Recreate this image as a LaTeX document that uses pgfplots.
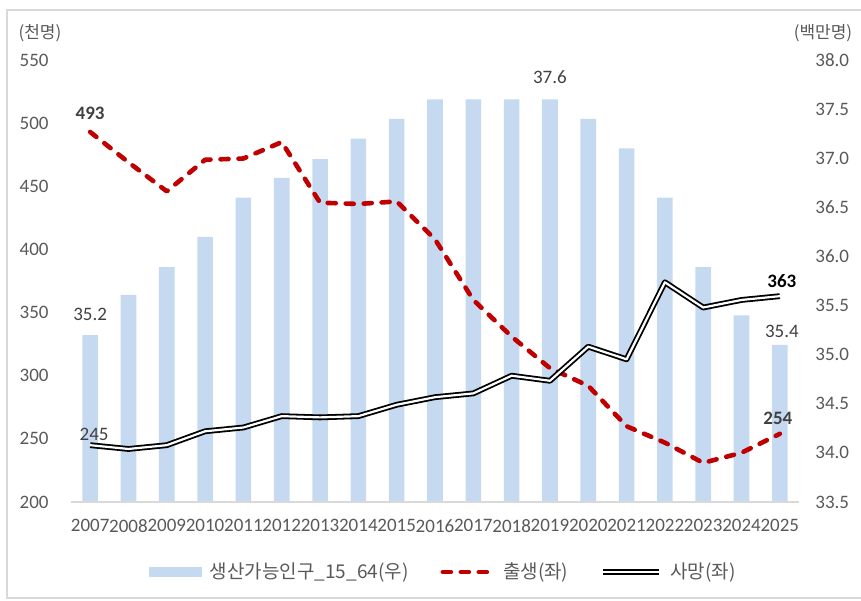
\documentclass[border=0pt]{standalone}
\usepackage{fontspec}
\setmainfont{Carlito}
\newfontfamily\kr{Noto Sans CJK KR}
\usepackage{pgfplots}
\pgfplotsset{compat=1.18}
\usepackage{pgfplotstable}

\definecolor{barblue}{RGB}{197,217,241}
\definecolor{birthred}{RGB}{192,0,0}
\definecolor{ticktext}{RGB}{89,89,89}
\definecolor{labeltext}{RGB}{64,64,64}
\definecolor{framegray}{RGB}{217,217,217}

% wa = working-age population (bar height, right axis), birth/death in thousands (left axis)
\pgfplotstableread{
idx year wa birth death
0 2007 35.20 493 245
1 2008 35.61 469 242
2 2009 35.89 446 245
3 2010 36.20 471 256
4 2011 36.60 472 259
5 2012 36.80 485 268
6 2013 36.99 437 267
7 2014 37.20 436 268
8 2015 37.40 438 277
9 2016 37.60 408 283
10 2017 37.60 360 286
11 2018 37.60 331 300
12 2019 37.60 306 296
13 2020 37.40 292 323
14 2021 37.10 260 313
15 2022 36.60 247 374
16 2023 35.89 231 354
17 2024 35.40 239 360
18 2025 35.10 254 363
}\pop

\pgfplotsset{
  common/.style={
    at={(35.5pt,49pt)}, anchor=south west,
    scale only axis, width=364pt, height=221pt,
    xmin=-0.5, xmax=18.5,
    major tick length=0pt,
    tick label style={font=\fontsize{9.5}{10}\selectfont, text=ticktext},
    /pgf/number format/assume math mode=true,
  },
  lineleg/.style={legend image code/.code={\draw[##1] (0pt,0pt) -- (#1,0pt);}},
  barleg/.style={legend image code/.code={\fill[barblue] (0pt,-2.25pt) rectangle (26pt,2.25pt);}},
}

\begin{document}
\begin{tikzpicture}
\useasboundingbox (0,0) rectangle (430.5pt,300pt);
\draw[framegray, line width=0.75pt] (3.5pt,1pt) rectangle (433pt,295pt);

% right axis: bars
\begin{axis}[common,
  ymin=33.5, ymax=38,
  hide x axis,
  axis y line*=right, y axis line style={draw=none},
  ytick={33.5,34,34.5,35,35.5,36,36.5,37,37.5,38},
  yticklabel style={anchor=west, inner sep=0pt, xshift=8pt,
    /pgf/number format/.cd, fixed, fixed zerofill, precision=1},
]
\addplot[ybar, bar width=7.8pt, fill=barblue, draw=none] table[x=idx, y=wa]{\pop};
\node[anchor=south, inner sep=0pt, text=labeltext, font=\fontsize{9.5}{10}\selectfont, yshift=7pt] at (axis cs:0,35.20) {35.2};
\node[anchor=south, inner sep=0pt, text=labeltext, font=\fontsize{9.5}{10}\selectfont, yshift=7.5pt] at (axis cs:12,37.60) {37.6};
\node[anchor=south, inner sep=0pt, text=labeltext, font=\fontsize{9.5}{10}\selectfont, yshift=3.25pt, xshift=1pt] at (axis cs:18,35.10) {35.4};
\end{axis}

% left axis: births and deaths
\begin{axis}[common,
  ymin=200, ymax=550,
  ytick={200,250,...,550},
  axis x line*=bottom, axis y line*=left,
  x axis line style={draw=framegray, line width=0.75pt, -},
  y axis line style={draw=none},
  xtick={0,...,18},
  xticklabels={2007,2008,2009,2010,2011,2012,2013,2014,2015,2016,2017,2018,2019,2020,2021,2022,2023,2024,2025},
  xticklabel style={anchor=north, inner sep=0pt, yshift=-8.5pt},
  yticklabel style={anchor=east, inner sep=0pt, xshift=-11pt},
  legend columns=3,
  legend style={at={(0.51,0)}, anchor=center, yshift=-35pt, draw=none, fill=none,
    inner sep=0pt, column sep=0pt,
    nodes={inner sep=0pt, text=ticktext, font=\kr\fontsize{9.5}{10}\selectfont},
    /tikz/every odd column/.append style={column sep=4pt},
    /tikz/every even column/.append style={column sep=16pt}},
]
\addlegendimage{barleg}
\addlegendentry{생산가능인구\_15\_64(우)}
\addplot[birthred, line width=2.3pt, dash pattern=on 4pt off 5pt, line cap=round, line join=round,
  lineleg=25pt]
  table[x=idx, y=birth]{\pop};
\addlegendentry{출생(좌)}
\addplot[black, line width=0.9pt, double=white, double distance=1.1pt, line join=round,
  lineleg=28pt]
  table[x=idx, y=death]{\pop};
\addlegendentry{사망(좌)}
\node[anchor=south, inner sep=0pt, text=labeltext, font=\bfseries\fontsize{9.5}{10}\selectfont, yshift=6pt] at (axis cs:0,493) {493};
\node[anchor=south, inner sep=0pt, text=labeltext, font=\fontsize{9.5}{10}\selectfont, yshift=2pt, xshift=2pt] at (axis cs:0,245) {245};
\node[anchor=south, inner sep=0pt, text=black, font=\bfseries\fontsize{9.5}{10}\selectfont, yshift=4pt, xshift=1pt] at (axis cs:18,363) {363};
\node[anchor=south, inner sep=0pt, text=labeltext, font=\bfseries\fontsize{9.5}{10}\selectfont, yshift=4.5pt, xshift=-1pt] at (axis cs:18,254) {254};
\end{axis}

\node[text=ticktext, font=\kr\fontsize{8.5}{10}\selectfont, inner sep=0pt] at (20pt,283.5pt) {(천명)};
\node[text=ticktext, font=\kr\fontsize{8.5}{10}\selectfont, inner sep=0pt] at (411.5pt,283.5pt) {(백만명)};
\end{tikzpicture}
\end{document}
